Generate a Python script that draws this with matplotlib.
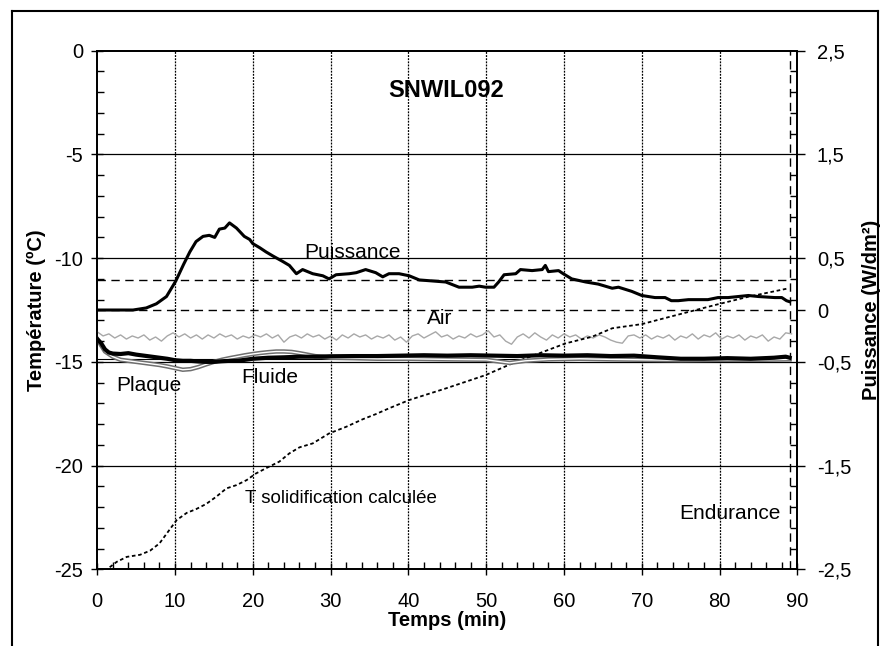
import numpy as np
import matplotlib
matplotlib.use("Agg")
import matplotlib.pyplot as plt
from matplotlib.ticker import FixedLocator
from matplotlib.lines import Line2D

plt.rcParams['font.family'] = ['Liberation Sans', 'DejaVu Sans']

# Puissance (W/dm2), right axis
t_puis = [0, 4.6, 6.3, 7.6, 8.9, 10.1, 11.1, 11.9, 12.7, 13.6, 14.4, 15.1, 15.7, 16.4, 17.0,
          17.9, 18.9, 19.6, 20.0, 20.9, 21.7, 22.6, 23.8, 24.7, 25.6, 26.4, 27.7, 29.0, 29.8,
          30.7, 32.4, 33.3, 34.5, 35.8, 36.7, 37.5, 38.8, 40.1, 41.4, 43.1, 44.8, 46.5, 48.2,
          49.1, 49.9, 51.0, 51.6, 52.3, 53.8, 54.4, 55.9, 57.2, 57.6, 58.0, 59.3, 59.9, 61.0,
          62.8, 64.4, 66.2, 67.0, 68.7, 70.0, 71.7, 73.0, 73.8, 74.7, 76.0, 78.5, 79.8, 81.1,
          83.7, 85.0, 87.1, 88.0, 88.6, 89.0]
puissance = [0.0, 0.0, 0.02, 0.06, 0.13, 0.28, 0.44, 0.56, 0.66, 0.71, 0.72, 0.70, 0.78, 0.79, 0.84,
             0.79, 0.71, 0.68, 0.64, 0.60, 0.56, 0.52, 0.47, 0.43, 0.35, 0.39, 0.35, 0.33, 0.30,
             0.34, 0.35, 0.36, 0.39, 0.36, 0.32, 0.35, 0.35, 0.33, 0.29, 0.28, 0.27, 0.22, 0.22,
             0.23, 0.22, 0.22, 0.27, 0.34, 0.35, 0.39, 0.38, 0.39, 0.43, 0.37, 0.38, 0.35, 0.30,
             0.27, 0.25, 0.21, 0.22, 0.18, 0.14, 0.12, 0.12, 0.09, 0.09, 0.10, 0.10, 0.12, 0.12,
             0.14, 0.13, 0.12, 0.12, 0.09, 0.08]

# Air temperature (sampled every 0.75 min)
air = [-13.55, -13.75, -13.65, -13.85, -13.7, -13.9, -13.75, -13.85, -13.7, -13.95,
       -13.8, -14.0, -13.75, -13.6, -13.8, -13.65, -13.85, -13.7, -13.9, -13.7,
       -13.85, -13.65, -13.8, -13.7, -13.9, -13.75, -13.85, -13.7, -13.8, -13.65,
       -13.85, -13.7, -14.05, -13.8, -13.7, -13.85, -13.65, -13.8, -13.7, -13.9,
       -13.75, -13.95, -13.7, -13.85, -13.65, -13.8, -13.7, -13.9, -13.75, -13.85,
       -13.7, -13.95, -13.8, -14.05, -13.75, -13.65, -13.85, -13.7, -13.55, -13.8,
       -13.7, -13.9, -13.75, -13.85, -13.65, -13.8, -13.7, -13.5, -13.8, -13.7,
       -14.0, -14.15, -13.8, -13.65, -13.85, -13.6, -13.8, -13.95, -13.7, -13.85,
       -13.65, -13.8, -13.7, -13.9, -13.75, -13.85, -13.7, -13.8, -13.95, -14.05,
       -14.1, -13.75, -13.7, -13.85, -13.7, -13.9, -13.75, -13.85, -13.7, -13.95,
       -13.75, -13.85, -13.65, -13.9, -13.7, -13.8, -13.6, -13.9, -13.75, -13.85,
       -13.7, -13.95, -13.75, -13.85, -13.7, -14.0, -13.8, -13.9, -13.6, -13.65]
t_air = np.arange(len(air)) * 0.75

# Plaque (thick black)
t_plaque = [0, 0.5, 1, 1.5, 2, 3, 4, 5, 6, 7, 8, 9, 10, 11, 12, 13, 14, 15, 16, 17, 18, 19, 20,
            22, 24, 26, 28, 30, 33, 36, 39, 42, 45, 48, 51, 54, 57, 60, 63, 66, 69, 72, 75, 78,
            81, 84, 87, 88.5, 89]
plaque = [-13.9, -14.1, -14.4, -14.55, -14.6, -14.62, -14.58, -14.65, -14.7, -14.75, -14.8,
          -14.85, -14.92, -14.95, -14.95, -14.98, -15.0, -15.0, -14.97, -14.95, -14.95, -14.9,
          -14.85, -14.8, -14.78, -14.75, -14.75, -14.73, -14.72, -14.72, -14.7, -14.68, -14.7,
          -14.68, -14.7, -14.72, -14.68, -14.7, -14.68, -14.72, -14.7, -14.78, -14.85, -14.85,
          -14.82, -14.85, -14.8, -14.75, -14.8]

# Fluide (grey hollow line)
t_fluide = [0, 1, 2, 3, 4, 5, 6, 7, 8, 9, 10, 11, 12, 13, 14, 15, 16, 17, 18, 19, 20, 21, 22, 23,
            24, 25, 26, 27, 28, 30, 33, 36, 40, 45, 50, 53, 55, 58, 62, 66, 70, 75, 80, 85, 89]
fluide = [-13.9, -14.5, -14.75, -14.9, -14.95, -15.0, -15.05, -15.1, -15.15, -15.22, -15.3,
          -15.38, -15.35, -15.25, -15.12, -15.0, -14.9, -14.82, -14.75, -14.68, -14.62, -14.57,
          -14.53, -14.5, -14.5, -14.52, -14.58, -14.65, -14.72, -14.8, -14.82, -14.85, -14.85,
          -14.88, -14.9, -15.05, -14.95, -14.88, -14.85, -14.88, -14.9, -14.92, -14.9, -14.9,
          -14.88]

# T solidification calculee (dotted)
t_sol = [1.6, 2.5, 3.8, 5.5, 6.8, 8.0, 9.1, 10.2, 11.5, 12.7, 14.0, 15.3, 16.6, 17.9, 19.2, 20.4,
         22.1, 23.4, 24.7, 26.0, 27.7, 29.8, 32.0, 34.1, 35.8, 37.5, 40.1, 44.8, 49.9, 53.8,
         56.8, 60.2, 63.6, 66.2, 70.0, 74.7, 79.4, 83.7, 88.8]
t_solid = [-24.9, -24.64, -24.4, -24.3, -24.1, -23.75, -23.19, -22.63, -22.28, -22.1, -21.85,
           -21.5, -21.1, -20.94, -20.7, -20.38, -20.05, -19.81, -19.41, -19.12, -18.93, -18.45,
           -18.13, -17.77, -17.52, -17.24, -16.84, -16.28, -15.64, -15.0, -14.59, -14.11,
           -13.79, -13.38, -13.18, -12.72, -12.26, -11.86, -11.46]

left_ticks = [0, -5, -10, -15, -20, -25]
right_ticks = [2.5, 1.5, 0.5, 0, -0.5, -1.5, -2.5]
right_labels = ["2,5", "1,5", "0,5", "0", "-0,5", "-1,5", "-2,5"]
x_ticks = [0, 10, 20, 30, 40, 50, 60, 70, 80, 90]

fig = plt.figure(figsize=(8.84, 6.46), dpi=100)
ax1 = fig.add_axes([0.110, 0.1187, 0.792, 0.8028])
ax2 = ax1.twinx()

fs = 14.5
ax1.set_xlim(0, 90)
ax1.set_ylim(-25, 0)
ax2.set_ylim(-2.5, 2.5)

# grid
for y in [-5, -10, -15, -20]:
    ax1.axhline(y, color='black', lw=0.9, zorder=1)
for x in x_ticks[1:-1]:
    ax1.axvline(x, color='black', lw=0.9, dashes=(1.5, 1), zorder=1)

# dashed reference lines
ax1.plot([0, 89], [-11.07, -11.07], color='black', lw=1, dashes=(6, 4), zorder=2)
ax1.plot([0, 89], [-12.5, -12.5], color='black', lw=1, dashes=(6, 4), zorder=2)
ax1.plot([89, 89], [-25, 0], color='black', lw=1, dashes=(6, 4), zorder=2)
ax1.plot([0, 89], [-14.85, -14.85], color='black', lw=0.8, zorder=2)

ax1.plot(t_air, air, color='#a8a8a8', lw=1.0, zorder=3)
ax1.plot(t_fluide, fluide, color='#6f6f6f', lw=3.2, zorder=4)
ax1.plot(t_fluide, fluide, color='white', lw=1.0, zorder=4)
ax1.plot(t_plaque, plaque, color='black', lw=3.0, zorder=5)
ax1.plot(t_sol, t_solid, color='black', lw=1.3, dashes=(2, 1.5), zorder=3)
ax2.plot(t_puis, puissance, color='black', lw=2.2, zorder=5)

# ticks
ax1.xaxis.set_major_locator(FixedLocator(x_ticks))
ax1.xaxis.set_minor_locator(FixedLocator(np.arange(0, 90.1, 2)))
ax1.yaxis.set_major_locator(FixedLocator(left_ticks))
ax1.yaxis.set_minor_locator(FixedLocator(np.arange(-25, 0.1, 1)))
ax1.tick_params(axis='both', which='major', direction='inout', length=8, width=1,
                labelsize=fs, top=False)
ax1.tick_params(axis='both', which='minor', direction='in', length=5, width=1)
ax1.tick_params(axis='x', which='major', pad=12)
ax1.tick_params(axis='y', which='major', pad=6)
ax1.set_xticklabels([str(v) for v in x_ticks])
ax1.set_yticklabels([str(v) for v in left_ticks])

ax2.yaxis.set_major_locator(FixedLocator(right_ticks))
ax2.yaxis.set_minor_locator(FixedLocator(np.arange(-2.5, 2.51, 0.2)))
ax2.set_yticklabels(right_labels)
ax2.tick_params(axis='y', which='major', direction='out', length=6, width=1, labelsize=fs, pad=8)
ax2.tick_params(axis='y', which='minor', direction='in', length=5, width=1)

for a in (ax1, ax2):
    for s in a.spines.values():
        s.set_linewidth(1.3)

ax1.set_xlabel("Temps (min)", fontsize=fs, fontweight='bold', labelpad=0)
ax1.set_ylabel("Température (ºC)", fontsize=fs, fontweight='bold', labelpad=6)
ax2.set_ylabel("Puissance (W/dm²)", fontsize=fs, fontweight='bold', labelpad=8)

# annotations
ax1.text(44.8, -1.9, "SNWIL092", fontsize=17, fontweight='bold', ha='center', va='center')
ax1.text(32.8, -9.75, "Puissance", fontsize=15, ha='center', va='center')
ax1.text(44.0, -12.9, "Air", fontsize=15, ha='center', va='center')
ax1.text(6.6, -16.15, "Plaque", fontsize=15, ha='center', va='center')
ax1.text(22.2, -15.75, "Fluide", fontsize=15, ha='center', va='center')
ax1.text(31.3, -21.6, "T solidification calculée", fontsize=13.5, ha='center', va='center')
ax1.text(81.3, -22.3, "Endurance", fontsize=15, ha='center', va='center')

# outer frame
W, H = 884, 646
for xs, ys in [([12, 878], [H - 11, H - 11]), ([12, 12], [H - 11, 0]), ([878, 878], [H - 11, 0])]:
    fig.add_artist(Line2D([x / W for x in xs], [y / H for y in ys], color='black', lw=1.5,
                          transform=fig.transFigure))

fig.savefig("out.png", dpi=100)
